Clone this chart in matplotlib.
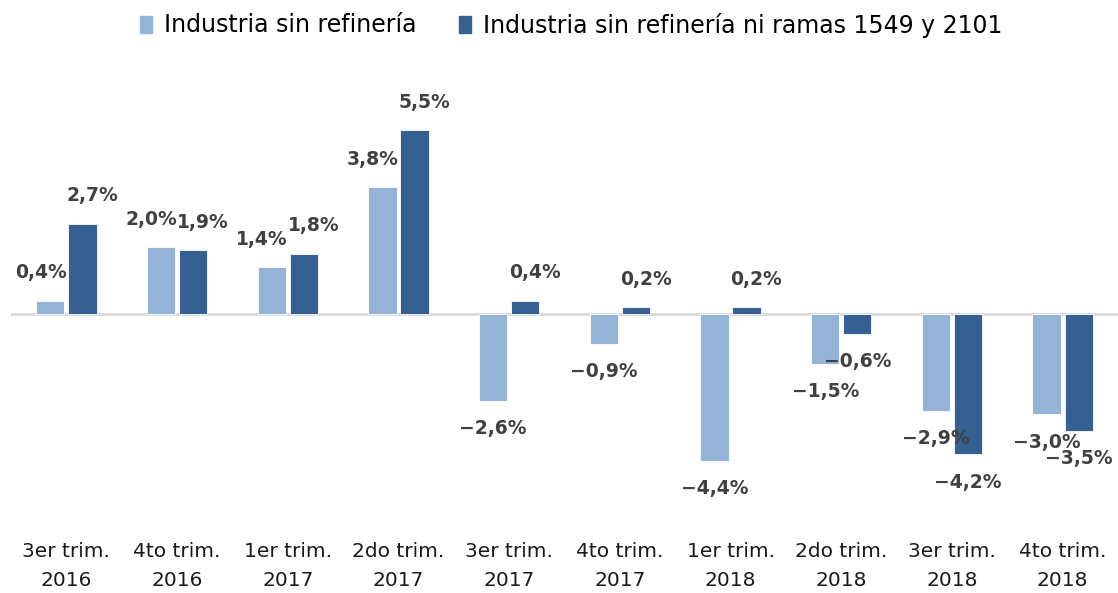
import numpy as np
import matplotlib.pyplot as plt
from matplotlib.patches import Patch

categories = ['3er trim.\n2016', '4to trim.\n2016', '1er trim.\n2017', '2do trim.\n2017',
              '3er trim.\n2017', '4to trim.\n2017', '1er trim.\n2018', '2do trim.\n2018',
              '3er trim.\n2018', '4to trim.\n2018']
sin_refineria = [0.4, 2.0, 1.4, 3.8, -2.6, -0.9, -4.4, -1.5, -2.9, -3.0]
sin_refineria_ramas = [2.7, 1.9, 1.8, 5.5, 0.4, 0.2, 0.2, -0.6, -4.2, -3.5]
series_names = ['Industria sin refinería', 'Industria sin refinería ni ramas 1549 y 2101']

light = '#95B3D7'
dark = '#366092'
label_color = '#404040'

W, H = 1118, 593
fig = plt.figure(figsize=(W / 100, H / 100), dpi=100)
ax = fig.add_axes([11 / W, 1 - 520 / H, 1107 / W, 460 / H])

x = np.arange(len(categories))
bw = 0.255
off = 0.145
ax.bar(x - off, sin_refineria, bw, color=light, edgecolor='white', linewidth=0.6, zorder=2)
ax.bar(x + off, sin_refineria_ramas, bw, color=dark, edgecolor='white', linewidth=0.6, zorder=2)
ax.axhline(0, color='#d9d9d9', lw=2, zorder=1)


def fmt(v):
    s = f'{abs(v):.1f}'.replace('.', ',') + '%'
    return ('\u2212' if v < 0 else '') + s


for vals, xs, dx in [(sin_refineria, x - off, -7), (sin_refineria_ramas, x + off, 7)]:
    for xi, v in zip(xs, vals):
        if v >= 0:
            ax.annotate(fmt(v), (xi, v), xytext=(dx, 20), textcoords='offset points',
                        ha='center', va='center', fontsize=13.5, fontweight='bold',
                        color=label_color)
        else:
            ax.annotate(fmt(v), (xi, v), xytext=(0, -20), textcoords='offset points',
                        ha='center', va='center', fontsize=13.5, fontweight='bold',
                        color=label_color)

ax.set_xlim(-0.5, len(categories) - 0.5)
ax.set_ylim(-6.16, 7.59)
ax.set_yticks([])
ax.set_xticks(x)
ax.set_xticklabels(categories, fontsize=14.5, linespacing=1.65, color='#1a1a1a')
ax.tick_params(axis='x', length=0, pad=16)
for s in ax.spines.values():
    s.set_visible(False)

handles = [Patch(color=light), Patch(color=dark)]
fig.legend(handles, series_names, loc='center', bbox_to_anchor=(0.511, 1 - 25 / H),
           ncol=2, frameon=False, fontsize=17, handlelength=0.5, handleheight=0.7,
           handletextpad=0.5, columnspacing=1.8)

fig.savefig('out.png', dpi=100)
